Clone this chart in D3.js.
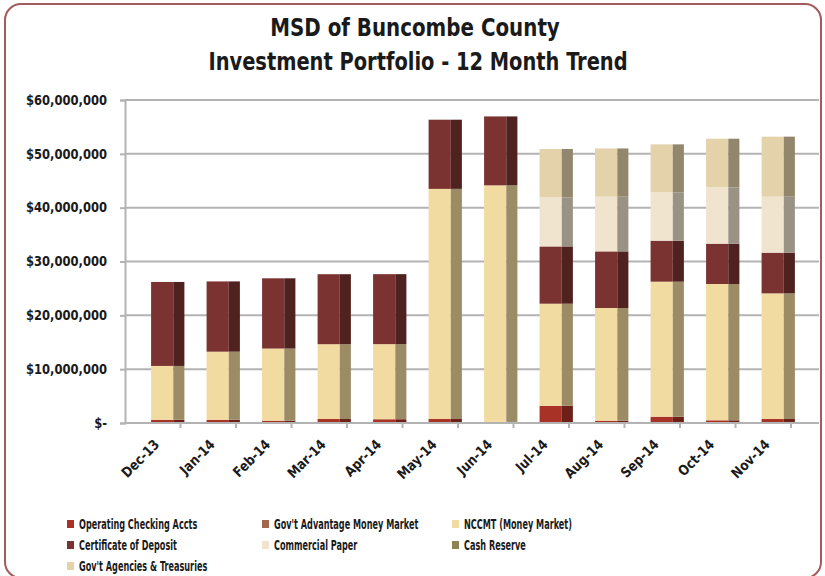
<!DOCTYPE html>
<html lang="en">
<head>
    <meta charset="UTF-8">
    <title>MSD of Buncombe County - Investment Portfolio</title>
    <script src="https://d3js.org/d3.v7.min.js"></script>
    <style>
        body { margin: 0; background: #fff; }
        text { font-family: "Liberation Sans Narrow", "DejaVu Sans Condensed", "Liberation Sans", sans-serif; font-weight: bold; fill: #1a1a1a; }
    </style>
</head>
<body>
    <div id="chart"></div>

    <script>
        // Months on the x axis
        const months = ["Dec-13", "Jan-14", "Feb-14", "Mar-14", "Apr-14", "May-14",
                        "Jun-14", "Jul-14", "Aug-14", "Sep-14", "Oct-14", "Nov-14"];

        // Balances per holding type (dollars)
        const operatingChecking = [600000, 600000, 430000, 740000, 700000, 740000, 200000, 3200000, 430000, 1170000, 500000, 740000];
        const govAdvantage      = [0, 0, 0, 0, 0, 0, 0, 0, 0, 0, 0, 0];
        const nccmt             = [10000000, 12650000, 13400000, 13900000, 13950000, 42750000, 43950000, 18960000, 20930000, 25080000, 25320000, 23340000];
        const certDeposit       = [15600000, 13050000, 13050000, 13000000, 13000000, 12850000, 12800000, 10640000, 10520000, 7620000, 7490000, 7560000];
        const commercialPaper   = [0, 0, 0, 0, 0, 0, 0, 9100000, 10160000, 8970000, 10460000, 10400000];
        const cashReserve       = [0, 0, 0, 0, 0, 0, 0, 0, 0, 0, 0, 0];
        const govAgencies       = [0, 0, 0, 0, 0, 0, 0, 9000000, 8960000, 8920000, 9040000, 11150000];

        // y axis ticks
        const yTicks = [0, 10000000, 20000000, 30000000, 40000000, 50000000, 60000000];

        const seriesNames = ["Operating Checking Accts", "Gov't Advantage Money Market", "NCCMT (Money Market)",
                             "Certificate of Deposit", "Commercial Paper", "Cash  Reserve", "Gov't Agencies & Treasuries"];
        const seriesValues = [operatingChecking, govAdvantage, nccmt, certDeposit, commercialPaper, cashReserve, govAgencies];
        const seriesColors = ["#a83226", "#a0694f", "#f2dba0", "#7b3331", "#f1e4cf", "#8d8550", "#e4d2ab"];

        const width = 825, height = 576;
        const plot = {left: 125, right: 791, top: 100, bottom: 423, gridEnd: 819};

        // narrow the text horizontally, the original uses a condensed face
        function squeeze(sel, k) {
            sel.each(function() {
                const t = d3.select(this);
                const x = +t.attr("x") || 0, y = +t.attr("y") || 0;
                const prev = t.attr("transform") || "";
                t.attr("x", null).attr("y", null)
                 .attr("transform", `${prev} translate(${x},${y}) scale(${k},1)`);
            });
        }

        const svg = d3.select("#chart")
                      .append("svg")
                      .attr("width", width)
                      .attr("height", height);

        // Rounded frame
        svg.append("rect")
           .attr("x", 5).attr("y", 4)
           .attr("width", 816).attr("height", 574)
           .attr("rx", 16)
           .attr("fill", "none")
           .attr("stroke", "#a35a5a")
           .attr("stroke-width", 2);

        // Titles
        const t1 = svg.append("text")
           .attr("x", 415).attr("y", 36)
           .attr("text-anchor", "middle")
           .style("font-size", "24px")
           .text("MSD of Buncombe County");
        const t2 = svg.append("text")
           .attr("x", 418).attr("y", 70)
           .attr("text-anchor", "middle")
           .style("font-size", "24px")
           .text("Investment Portfolio - 12 Month Trend");
        squeeze(t1, 0.92);
        squeeze(t2, 0.9);

        // Scales
        const xScale = d3.scaleBand()
                         .domain(months)
                         .range([plot.left, plot.right])
                         .padding(0);

        const yScale = d3.scaleLinear()
                         .domain([0, 60000000])
                         .range([plot.bottom, plot.top]);

        // Gridlines
        svg.append("g")
           .selectAll("line")
           .data(yTicks.slice(1))
           .enter()
           .append("line")
           .attr("x1", plot.left).attr("x2", plot.gridEnd)
           .attr("y1", d => yScale(d)).attr("y2", d => yScale(d))
           .attr("stroke", "#b3b3b3")
           .attr("stroke-width", 2);

        // Y axis
        const fmt = d3.format(",");
        const yAxis = svg.append("g")
           .attr("transform", `translate(${plot.left},0)`)
           .call(d3.axisLeft(yScale)
                   .tickValues(yTicks)
                   .tickSize(5)
                   .tickPadding(13)
                   .tickFormat(d => d === 0 ? "$-" : "$" + fmt(d)));
        yAxis.select(".domain").attr("stroke", "#b3b3b3").attr("stroke-width", 2);
        yAxis.selectAll(".tick line").attr("stroke", "#b3b3b3").attr("stroke-width", 2);
        yAxis.selectAll(".tick text").style("font-size", "13.5px").attr("fill", "#1a1a1a");
        squeeze(yAxis.selectAll(".tick text"), 0.95);

        // Stack the series
        const table = months.map((m, i) => {
            const row = {month: m};
            seriesNames.forEach((s, j) => row[s] = seriesValues[j][i]);
            return row;
        });
        const stacked = d3.stack().keys(seriesNames)(table);

        // Bars: front face plus a darker side face for the 3-D look
        const bw = xScale.bandwidth();
        const frontOffset = bw * 0.47, frontWidth = bw * 0.40, sideWidth = bw * 0.20;

        const layers = svg.append("g")
           .selectAll("g")
           .data(stacked)
           .enter()
           .append("g");

        layers.selectAll(".front")
           .data((d, i) => d.map(p => ({p, color: seriesColors[i]})))
           .enter()
           .filter(d => d.p[1] - d.p[0] > 0)
           .append("rect")
           .attr("class", "front")
           .attr("x", d => xScale(d.p.data.month) + frontOffset)
           .attr("y", d => yScale(d.p[1]))
           .attr("width", frontWidth)
           .attr("height", d => yScale(d.p[0]) - yScale(d.p[1]))
           .attr("fill", d => d.color);

        layers.selectAll(".side")
           .data((d, i) => d.map(p => ({p, color: seriesColors[i]})))
           .enter()
           .filter(d => d.p[1] - d.p[0] > 0)
           .append("rect")
           .attr("class", "side")
           .attr("x", d => xScale(d.p.data.month) + frontOffset + frontWidth)
           .attr("y", d => yScale(d.p[1]))
           .attr("width", sideWidth)
           .attr("height", d => yScale(d.p[0]) - yScale(d.p[1]))
           .attr("fill", d => d3.color(d.color).darker(1.25));

        // X axis line and ticks (ticks between categories)
        svg.append("line")
           .attr("x1", plot.left).attr("x2", plot.gridEnd)
           .attr("y1", plot.bottom).attr("y2", plot.bottom)
           .attr("stroke", "#b3b3b3")
           .attr("stroke-width", 2);

        svg.append("g")
           .selectAll("line")
           .data(months)
           .enter()
           .append("line")
           .attr("x1", d => xScale(d) + bw).attr("x2", d => xScale(d) + bw)
           .attr("y1", plot.bottom).attr("y2", plot.bottom + 5)
           .attr("stroke", "#b3b3b3")
           .attr("stroke-width", 2);

        // Rotated month labels
        const xLabels = svg.append("g")
           .selectAll("text")
           .data(months)
           .enter()
           .append("text")
           .attr("transform", d => `translate(${xScale(d) + bw / 2 + 4},${plot.bottom + 19}) rotate(-45)`)
           .attr("text-anchor", "end")
           .attr("dy", "0.35em")
           .style("font-size", "14px")
           .text(d => d);
        squeeze(xLabels, 0.95);

        // Legend, three columns
        const legendCols = [67, 262, 452];
        const legendRows = [524, 545, 566];
        const legend = svg.append("g")
           .selectAll("g")
           .data(seriesNames)
           .enter()
           .append("g")
           .attr("transform", (d, i) => `translate(${legendCols[i % 3]},${legendRows[Math.floor(i / 3)]})`);

        legend.append("rect")
           .attr("x", 0).attr("y", -4)
           .attr("width", 7).attr("height", 8)
           .attr("fill", (d, i) => seriesColors[i]);

        const legendText = legend.append("text")
           .attr("x", 12)
           .attr("dy", "0.35em")
           .style("font-size", "13.5px")
           .text(d => d);
        squeeze(legendText, 0.67);
    </script>
</body>
</html>
